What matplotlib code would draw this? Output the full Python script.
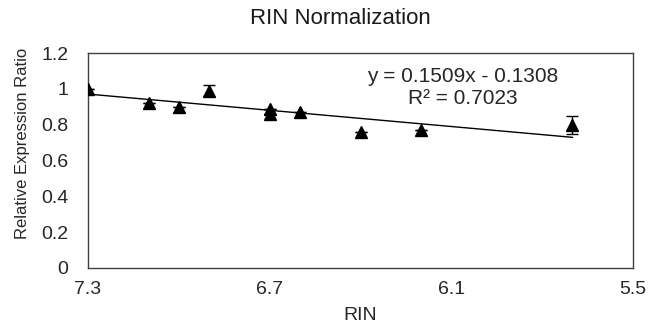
import matplotlib
matplotlib.use("Agg")
import matplotlib.pyplot as plt
import numpy as np

plt.rcParams['font.family'] = ['Liberation Sans', 'DejaVu Sans']

# RIN values and relative expression ratios
rin = [7.3, 7.1, 7.0, 6.9, 6.7, 6.7, 6.6, 6.4, 6.2, 5.7]
ratio = [1.00, 0.92, 0.90, 0.99, 0.89, 0.86, 0.87, 0.76, 0.77, 0.80]
err = [0.0, 0.0, 0.0, 0.03, 0.0, 0.0, 0.0, 0.0, 0.0, 0.05]

# Linear trendline coefficients
slope = 0.1509
intercept = -0.1308
r2 = 0.7023

x_ticks = [7.3, 6.7, 6.1, 5.5]
y_ticks = [0, 0.2, 0.4, 0.6, 0.8, 1.0, 1.2]
y_tick_labels = ['0', '0.2', '0.4', '0.6', '0.8', '1', '1.2']

W, H = 649, 326
fig = plt.figure(figsize=(W / 100, H / 100), dpi=100)
ax = fig.add_axes([88 / W, 1 - 268 / H, (633 - 88) / W, (268 - 53) / H])

ax.errorbar(rin, ratio, yerr=err, fmt='^', color='black', markersize=8.5,
            ecolor='black', elinewidth=1, capsize=4, capthick=1, zorder=3)

xs = np.array([max(rin), min(rin)])
ax.plot(xs, slope * xs + intercept, color='black', linewidth=1, zorder=2)

ax.set_xlim(7.3, 5.5)
ax.set_ylim(0, 1.2)
ax.set_xticks(x_ticks)
ax.set_xticklabels([f'{v:.1f}' for v in x_ticks])
ax.set_yticks(y_ticks)
ax.set_yticklabels(y_tick_labels)
ax.tick_params(length=0, labelsize=14, colors='#262626')
ax.tick_params(axis='x', pad=9)
ax.tick_params(axis='y', pad=14)

for s in ax.spines.values():
    s.set_color('#404040')
    s.set_linewidth(1)

txt = dict(transform=fig.transFigure, ha='center', va='center', color='#262626')
fig.text(360.5 / W, 1 - 316 / H, 'RIN', fontsize=14, **txt)
fig.text(23 / W, 1 - 143.5 / H, 'Relative Expression Ratio', rotation=90,
         fontsize=12, **txt)

fig.text(462.5 / W, 1 - 77 / H, f'y = {slope:.4f}x - {abs(intercept):.4f}',
         fontsize=15, **txt)
fig.text(462.5 / W, 1 - 98 / H, f'R² = {r2:.4f}', fontsize=15, **txt)

fig.text(340 / W, 1 - 18 / H, 'RIN Normalization', fontsize=16,
         transform=fig.transFigure, ha='center', va='center', color='#1a1a1a')

fig.savefig('out.png', dpi=100)
